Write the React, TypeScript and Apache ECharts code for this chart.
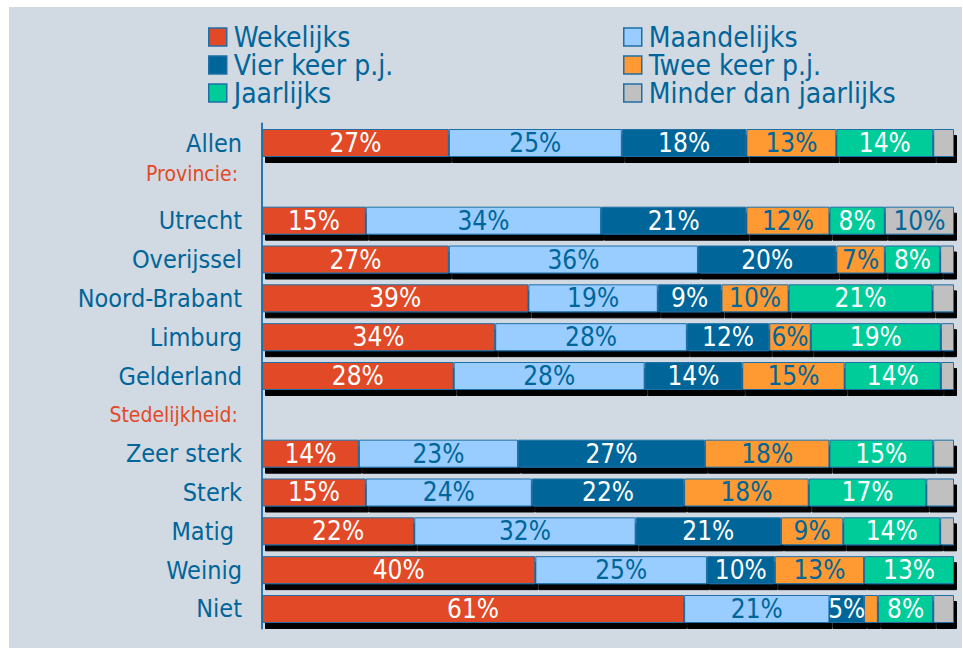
import React, { useEffect, useRef } from "react";
import * as echarts from "echarts";

const categories = [
  "Allen",
  "Provincie:",
  "Utrecht",
  "Overijssel",
  "Noord-Brabant",
  "Limburg",
  "Gelderland",
  "Stedelijkheid:",
  "Zeer sterk",
  "Sterk",
  "Matig",
  "Weinig",
  "Niet",
];
const headerRows = ["Provincie:", "Stedelijkheid:"];

const seriesNames = [
  "Wekelijks",
  "Maandelijks",
  "Vier keer p.j.",
  "Twee keer p.j.",
  "Jaarlijks",
  "Minder dan jaarlijks",
];

const wekelijks = [27, "-", 15, 27, 38.5, 33.7, 27.7, "-", 14, 15, 22, 39.5, 61];
const maandelijks = [25, "-", 34, 36, 18.7, 27.7, 27.6, "-", 23, 24, 32, 24.8, 21];
const vierKeer = [18, "-", 21, 20, 9.2, 11.9, 14.1, "-", 27, 22, 21, 9.8, 5];
const tweeKeer = [13, "-", 12, 7, 9.7, 6.0, 14.8, "-", 18, 18, 9, 12.9, 2];
const jaarlijks = [14, "-", 8, 8, 20.8, 18.8, 13.9, "-", 15, 17, 14, 13.0, 8];
const minder = [3, "-", 10, 2, 3.1, 1.9, 1.9, "-", 3, 4, 2, "-", 3];

const seriesData = [wekelijks, maandelijks, vierKeer, tweeKeer, jaarlijks, minder];
const seriesColors = ["#E24A27", "#99CCFF", "#006699", "#FF9933", "#00CC99", "#C0C0C0"];
const labelColors = ["#FFFFFF", "#006699", "#FFFFFF", "#006699", "#FFFFFF", "#006699"];

const FONT = "'DejaVu Sans Condensed', 'DejaVu Sans', sans-serif";
const TEXT_BLUE = "#006699";
const HEADER_RED = "#E24A27";

export default function App() {
  const ref = useRef<HTMLDivElement>(null);

  useEffect(() => {
    if (!ref.current) return;
    const chart = echarts.init(ref.current, null, { renderer: "svg" });

    const series = seriesNames.map((name, i) => ({
      name,
      type: "bar",
      stack: "total",
      barWidth: 28,
      data: seriesData[i],
      itemStyle: {
        color: seriesColors[i],
        borderColor: "#1F6FA6",
        borderWidth: 1,
        shadowColor: "#000000",
        shadowBlur: 0,
        shadowOffsetX: 3,
        shadowOffsetY: 6,
      },
      label: {
        show: true,
        position: "inside",
        color: labelColors[i],
        fontFamily: FONT,
        fontSize: 26,
        formatter: (p: any) =>
          typeof p.value === "number" && p.value >= 4.5 ? Math.round(p.value) + "%" : "",
      },
    }));

    const legendCommon = {
      orient: "vertical",
      top: 23,
      padding: 0,
      itemWidth: 18,
      itemHeight: 18,
      itemGap: 0,
      icon: "rect",
      itemStyle: {
        borderColor: "#1F6FA6",
        borderWidth: 1.5,
        shadowColor: "transparent",
        shadowOffsetX: 0,
        shadowOffsetY: 0,
      },
      textStyle: {
        color: TEXT_BLUE,
        fontFamily: FONT,
        fontSize: 28,
        lineHeight: 26.5,
        padding: [0, 0, 0, 2],
      },
    };

    chart.setOption({
      animation: false,
      backgroundColor: "#FFFFFF",
      graphic: {
        elements: [
          {
            type: "rect",
            z: -10,
            silent: true,
            shape: { x: 9, y: 7, width: 953, height: 641 },
            style: { fill: "#D1D9E2" },
          },
        ],
      },
      legend: [
        {
          ...legendCommon,
          left: 208,
          data: ["Wekelijks", "Vier keer p.j.", "Jaarlijks"],
        },
        {
          ...legendCommon,
          left: 623,
          data: ["Maandelijks", "Twee keer p.j.", "Minder dan jaarlijks"],
        },
      ],
      grid: {
        left: 262,
        right: 9,
        top: 123.6,
        bottom: 19.6,
        containLabel: false,
      },
      xAxis: {
        type: "value",
        min: 0,
        max: 100,
        show: false,
      },
      yAxis: {
        type: "category",
        inverse: true,
        data: categories,
        axisLine: { show: true, lineStyle: { color: "#2A78B2", width: 2 } },
        axisTick: { show: false },
        splitLine: { show: false },
        axisLabel: {
          margin: 20,
          color: TEXT_BLUE,
          fontFamily: FONT,
          fontSize: 25,
          formatter: (v: string) => {
            if (v === "Provincie:") return "{hp|" + v + "}";
            if (headerRows.includes(v)) return "{hs|" + v + "}";
            if (v === "Matig") return "{m|" + v + "}";
            return v;
          },
          rich: {
            hp: {
              color: HEADER_RED,
              fontFamily: FONT,
              fontSize: 21,
              padding: [0, 4, 16, 0],
            },
            hs: {
              color: HEADER_RED,
              fontFamily: FONT,
              fontSize: 21,
              padding: [0, 4, 0, 0],
            },
            m: {
              color: TEXT_BLUE,
              fontFamily: FONT,
              fontSize: 25,
              padding: [0, 8, 0, 0],
            },
          },
        },
      },
      series,
    });

    return () => {
      chart.dispose();
    };
  }, []);

  return (
    <div
      ref={ref}
      style={{ position: "absolute", left: 0, top: 0, width: 963, height: 648 }}
    />
  );
}
